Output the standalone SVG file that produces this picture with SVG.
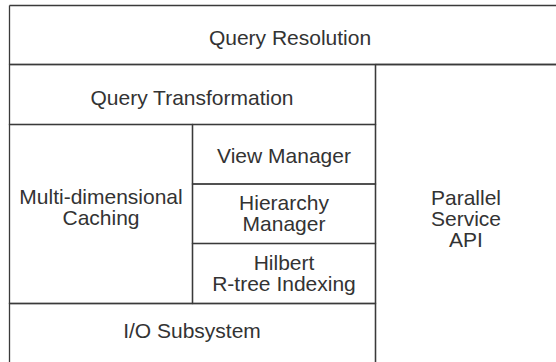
<svg xmlns="http://www.w3.org/2000/svg" width="556" height="362" viewBox="0 0 556 362">
<style>
.b{fill:none;stroke:#3a3a3a;stroke-width:1.3}
text{font-family:"Liberation Sans",Arial,sans-serif;font-size:21px;fill:#333;text-anchor:middle}
</style>
<rect width="556" height="362" fill="#fff"/>
<g id="query-resolution">
<path class="b" d="M9.5,5.5H556M9.5,5.5V64.5M9.5,64.5H556"/>
<text x="290" y="45">Query Resolution</text>
</g>
<g id="query-transformation">
<rect class="b" x="9.5" y="64.5" width="366" height="60"/>
<text x="192" y="105">Query Transformation</text>
</g>
<g id="multi-dimensional-caching">
<rect class="b" x="9.5" y="124.5" width="183" height="179"/>
<text x="101" y="204">Multi-dimensional</text>
<text x="101" y="225">Caching</text>
</g>
<g id="view-manager">
<rect class="b" x="192.5" y="124.5" width="183" height="59.5"/>
<text x="284" y="163">View Manager</text>
</g>
<g id="hierarchy-manager">
<rect class="b" x="192.5" y="184" width="183" height="59.5"/>
<text x="284" y="210">Hierarchy</text>
<text x="284" y="231">Manager</text>
</g>
<g id="hilbert-rtree-indexing">
<rect class="b" x="192.5" y="243.5" width="183" height="60"/>
<text x="284" y="270">Hilbert</text>
<text x="284" y="291">R-tree Indexing</text>
</g>
<g id="io-subsystem">
<path class="b" d="M9.5,362V303.5H375.5V362"/>
<text x="192" y="338">I/O Subsystem</text>
</g>
<g id="parallel-service-api">
<path class="b" d="M375.5,64.5H556M375.5,64.5V362"/>
<text x="466" y="205">Parallel</text>
<text x="466" y="226">Service</text>
<text x="466" y="247">API</text>
</g>
<g id="connectors"></g>
</svg>
